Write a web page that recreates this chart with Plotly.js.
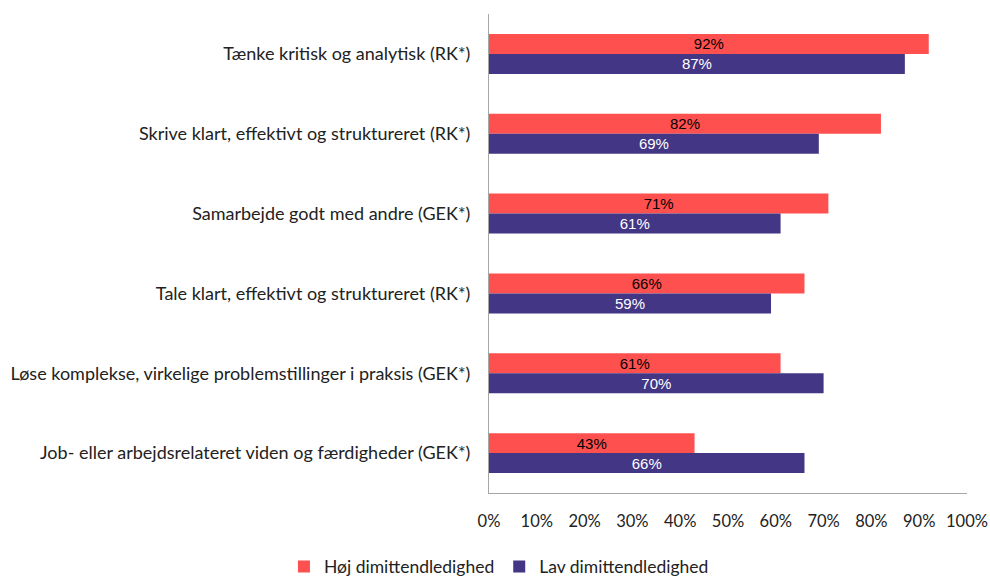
<!DOCTYPE html>
<html><head><meta charset="utf-8">
<script src="https://cdn.plot.ly/plotly-3.0.1.min.js"></script>
<style>body{margin:0;background:#fff}#c{width:990px;height:576px}</style>
</head><body><div id="c"></div>
<script>
const categories = [
  "Tænke kritisk og analytisk (RK*)",
  "Skrive klart, effektivt og struktureret (RK*)",
  "Samarbejde godt med andre (GEK*)",
  "Tale klart, effektivt og struktureret (RK*)",
  "Løse komplekse, virkelige problemstillinger i praksis (GEK*)",
  "Job- eller arbejdsrelateret viden og færdigheder (GEK*)"
];
const hoj = [92, 82, 71, 66, 61, 43];
const lav = [87, 69, 61, 59, 70, 66];
const tickVals = [0,10,20,30,40,50,60,70,80,90,100];
const tickText = tickVals.map(v => v + "%");

const labelFont = "Lato, 'Open Sans', sans-serif";
const traces = [
  {type:"bar", orientation:"h", name:"Høj dimittendledighed", y:categories, x:hoj,
   marker:{color:"#FF5050"}, text:hoj.map(v=>v+"%"), textposition:"inside", insidetextanchor:"middle",
   constraintext:"none", cliponaxis:false,
   textfont:{family:"Liberation Sans, Arial", size:15, color:"#000"}, hoverinfo:"x+y"},
  {type:"bar", orientation:"h", name:"Lav dimittendledighed", y:categories, x:lav,
   marker:{color:"#433685"}, text:lav.map(v=>v+"%"), textposition:"inside", insidetextanchor:"middle",
   constraintext:"none", cliponaxis:false,
   textfont:{family:"Liberation Sans, Arial", size:15, color:"#fff"}, hoverinfo:"x+y"}
];
const layout = {
  width:990, height:576,
  margin:{l:489, r:23, t:14, b:83, autoexpand:false},
  barmode:"group", bargap:0.5, bargroupgap:0,
  uniformtext:{mode:false},
  paper_bgcolor:"#fff", plot_bgcolor:"#fff",
  font:{family:labelFont, size:18, color:"#222"},
  xaxis:{range:[0,100], tickvals:tickVals, ticktext:tickText, showgrid:false, zeroline:false,
    showline:true, linecolor:"#a6a6a6", linewidth:1, ticks:"", ticklabelstandoff:13,
    tickfont:{family:labelFont, size:16.5, color:"#222"}, fixedrange:true, automargin:false},
  yaxis:{autorange:"reversed", showgrid:false, zeroline:false, showline:true, linecolor:"#a6a6a6",
    linewidth:1, ticks:"", ticklabelstandoff:14, automargin:false,
    tickfont:{family:labelFont, size:18, color:"#222"}},
  legend:{orientation:"h", x:0.504, xanchor:"center", xref:"container", yref:"paper", y:-0.116, yanchor:"top",
    font:{family:labelFont, size:17.5, color:"#222"}, itemwidth:30, traceorder:"normal"},
  showlegend:true
};
Plotly.newPlot("c", traces, layout, {displayModeBar:false, staticPlot:true});
</script></body></html>
